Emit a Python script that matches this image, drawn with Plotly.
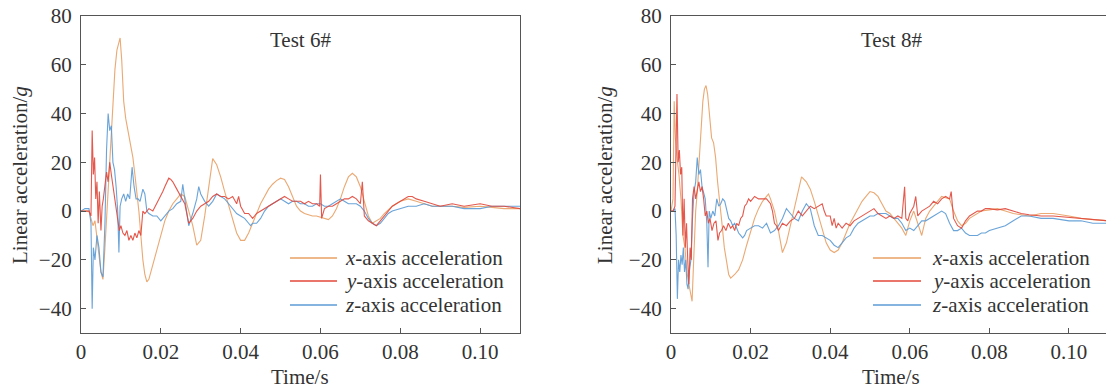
import plotly.graph_objects as go

# ---------------- Test 6# ----------------
T6_X_T = [0, 1, 2, 2.5, 3, 3.5, 4, 4.5, 5, 5.5,
          6, 6.5, 7, 7.5, 8, 8.5, 9, 9.5, 9.8, 10.2,
          10.7, 11.2, 11.8, 12.4, 13, 13.5, 14, 14.5, 15, 15.5,
          16, 16.5, 17, 18, 19, 20, 21, 22, 23, 24,
          25, 26, 27, 28, 29, 30, 31, 32, 33, 34,
          35, 36, 37, 38, 39, 40, 41, 42, 43, 44,
          45, 46, 47, 48, 49, 50, 51, 52, 53, 54,
          55, 56, 57, 58, 59, 60, 61, 62, 63, 64,
          65, 66, 67, 68, 69, 70, 71, 72, 73, 74,
          75, 76, 78, 80, 82, 84, 86, 88, 90, 93,
          96, 100, 103, 106, 110]
T6_X_V = [0, 0, 0, -3, -6, -4, -10, -18, -25, -28,
          -15, 0, 15, 30, 45, 58, 66, 70, 71, 62,
          45, 38, 33, 28, 22, 15, 8, 0, -10, -20,
          -26, -29, -28, -22, -15, -9, -4, 0, 3, 5,
          7, 6, 0, -6, -14, -12, -2, 9, 21.5, 19,
          14, 8, 2, -4, -9, -12, -12, -9, -5, -1,
          3, 6, 9, 11, 12.5, 13.5, 13, 10, 6, 2,
          0, -1, -1.5, -2, -2, -2.5, -3, -3.5, -2, 1,
          5, 10, 14, 15.5, 14, 10, 4, -2, -5, -4,
          -3, -1, 2, 4, 5, 4, 3, 2, 2, 2,
          1.5, 2, 1.5, 1, 1]

T6_Y_T = [0, 1, 2, 2.5, 2.8, 3.1, 3.4, 3.7, 4, 4.3,
          4.6, 5, 5.3, 5.6, 6, 6.4, 6.8, 7.2, 7.6, 8,
          8.4, 8.8, 9.2, 9.6, 10, 10.5, 11, 11.5, 12, 12.5,
          13, 13.5, 14, 14.5, 15, 15.5, 16, 17, 18, 19,
          20, 20.5, 21, 21.5, 22, 22.5, 23, 24, 25, 26,
          27, 28, 29, 30, 31, 32, 33, 34, 35, 36,
          37, 38, 39, 39.5, 40, 41, 42, 43, 44, 45,
          46, 47, 48, 49, 50, 51, 52, 53, 54, 55,
          56, 57, 58, 59, 59.8, 60, 60.3, 61, 62, 63,
          64, 65, 66, 67, 68, 69, 70, 70.5, 71, 72,
          73, 74, 75, 76, 77, 78, 79, 80, 81, 82,
          83, 84, 86, 88, 90, 93, 96, 100, 103, 106,
          110]
T6_Y_V = [0, 0, 0, -2, 33, 15, 22, 5, 12, -5,
          8, -8, 2, 5, 12, 16, 12, 20, 15, 10,
          5, 0, -5, -8, -6, -9, -10, -8, -12, -10,
          -12, -9, -11, -8, -10, 0, -1, 1, 0, 3,
          6, 8, 10, 12, 13.5, 13, 12, 9, 6, 3,
          -5, -3, 0, 2, 3, 4, 6, 7, 6, 6,
          5, 6, 3, 6, 2, -1, -1, -3, -1, 0,
          1, 2, 3, 4, 5, 6, 5, 4, 4, 4,
          3, 4, 3, 3, 2, 15, -3, 1, 2, 2,
          3, 4, 5, 5, 6, 5, 3, 12, -2, -4,
          -5, -6, -4, -2, 0, 2, 3, 4, 5, 6,
          6, 5, 4, 3, 2, 3, 2, 3, 2, 2,
          1]

T6_Z_T = [0, 1, 2, 2.5, 2.8, 3.1, 3.5, 4, 4.5, 5,
          5.5, 6, 6.4, 6.8, 7.2, 7.6, 8, 8.4, 8.8, 9.2,
          9.5, 9.8, 10.2, 10.7, 11.2, 11.7, 12.2, 12.8, 13.3, 13.8,
          14.3, 14.8, 15.5, 16, 16.5, 17, 18, 19, 20, 21,
          22, 23, 24, 25, 25.5, 26, 26.5, 27, 28, 29,
          29.5, 30, 31, 32, 33, 34, 35, 36, 37, 38,
          39, 40, 41, 42, 42.5, 43, 44, 45, 46, 47,
          48, 49, 50, 51, 52, 53, 54, 55, 56, 57,
          58, 59, 60, 61, 62, 63, 64, 65, 66, 67,
          68, 69, 70, 71, 72, 73, 74, 75, 76, 77,
          78, 80, 82, 84, 86, 88, 90, 93, 96, 100,
          103, 106, 110]
T6_Z_V = [0, 1, 1, -5, -40, -15, -20, -10, -15, -25,
          -27, -5, 25, 40, 33, 35, 20, 17, 10, 0,
          -17, 2, 5, 7, 4, 7, 5, 18, 10, 5,
          5, 4, 9, 7, 0, -1, -2, -2, -4, -2,
          0, 1, 3, 4, 11, 5, 0, -6, -1, 5,
          10, 7, 4, 2, 4, 7, 6, 5, 3, 1,
          -1, -2, -3, -5, -6, -5, -5, -3, 0, 2,
          3, 4, 5, 4, 3, 4, 4, 3, 3, 2,
          2, 3, 3, 2, 2, 3, 4, 5, 4, 3,
          3, 3, 2, 0, -3, -5, -6, -5, -3, -1,
          0, 1, 2, 2, 3, 2, 2, 2, 1, 1,
          2, 2, 2]

# ---------------- Test 8# ----------------
T8_X_T = [0, 0.5, 0.8, 1.1, 1.5, 2, 2.5, 3, 3.5, 4,
          4.5, 5, 5.3, 5.7, 6.2, 6.6, 7, 7.5, 8, 8.4,
          8.8, 9.2, 9.7, 10.2, 10.7, 11.2, 11.7, 12.2, 12.8, 13.4,
          14, 14.5, 15, 16, 17, 18, 19, 20, 21, 22,
          23, 24, 24.5, 25, 26, 27, 28, 29, 30, 31,
          32, 32.8, 34, 35, 36, 37, 38, 39, 40, 41,
          42, 43, 44, 45, 46, 47, 48, 49, 50, 51,
          52, 53, 54, 55, 56, 57, 58, 59, 60, 61,
          62, 63, 64, 65, 66, 67, 68, 69, 70, 71,
          72, 73, 74, 75, 76, 77, 78, 80, 82, 84,
          86, 88, 90, 93, 96, 100, 103, 106, 110]
T8_X_V = [0, 5, 45, 30, 22, 15, 5, -10, -15, -25,
          -30, -35, -37, -20, 0, 8, 20, 35, 45, 50,
          51.5, 48, 38, 30, 28, 22, 12, 3, -5, -15,
          -22, -26, -27.5, -26, -24, -20, -14, -8, -3, 1,
          4, 6, 7, 5, 0, -8, -17, -13, -6, 2,
          9, 14, 12, 9, 4, -2, -8, -13, -16, -17,
          -16, -13, -9, -5, -2, 1, 4, 6, 8, 7.5,
          6, 3, 0, -1, -3, -5, -7, -10, -4, 0,
          -5, -10, -3, 0, 2, 4, 6, 5.5, 5, 0,
          -4, -6, -5, -3, -2, -1, 0, 0.5, 1, 0,
          -1, -1.5, -2, -1, -1, -2, -3, -3.5, -4]

T8_Y_T = [0, 0.5, 1, 1.5, 1.8, 2.1, 2.4, 2.7, 3, 3.3,
          3.6, 3.9, 4.2, 4.5, 4.8, 5.1, 5.4, 5.8, 6.2, 6.6,
          7, 7.4, 7.8, 8.2, 8.6, 9, 9.4, 9.8, 10.3, 10.8,
          11.3, 11.8, 12.2, 12.7, 13.2, 13.8, 14.4, 15, 15.5, 16,
          16.5, 17, 17.5, 18, 18.5, 19, 19.5, 20, 21, 22,
          23, 24, 25, 25.5, 26, 26.5, 27, 28, 29, 30,
          31, 32, 33, 34, 35, 36, 37, 38, 38.5, 39,
          40, 40.5, 41, 41.5, 42, 43, 44, 45, 46, 47,
          48, 49, 50, 51, 52, 53, 54, 55, 56, 57,
          58, 58.7, 59, 59.5, 60, 61, 61.5, 62, 63, 64,
          65, 66, 67, 68, 69, 70, 70.4, 71, 72, 73,
          74, 75, 76, 77, 78, 79, 80, 82, 84, 86,
          88, 90, 93, 96, 100, 103, 106, 110]
T8_Y_V = [0, 0, 2, 48, 20, 25, 15, 18, -10, 5,
          -15, -5, -20, -30, -15, -20, 5, 10, 5, 8,
          12, 8, 10, 5, -2, 0, -5, -3, -8, -5,
          -4, -12, -9, -8, -6, -8, -5, -7, -6, -8,
          -5, -6, -3, -2, 2, 3, 5, 4, 6, 5,
          5, 5, 3, 0, -5, -6, -8, -5, -6, -4,
          -3, 0, -2, 0, 2, 1, 2, 3, 0, -2,
          -2, -6, -3, -7, -5, -7, -5, -6, -4, -3,
          -2, -1, 0, 1, -1, -2, -3, -2, -3, -2,
          -3, 10, -3, -4, -1, 2, 6, -2, 0, 1,
          2, 4, 3, 5, 6, 5, 8, -3, -6, -7,
          -4, -2, -1, 0, 0, 1, 1, 0.5, 1, 0,
          -1, -1.5, -2, -2, -2.5, -3, -3.5, -4]

T8_Z_T = [0, 0.5, 1, 1.3, 1.6, 1.9, 2.2, 2.5, 2.8, 3.1,
          3.4, 3.7, 4, 4.3, 4.6, 5, 5.4, 5.8, 6.2, 6.6,
          7, 7.4, 7.8, 8.2, 8.6, 9, 9.3, 9.6, 10, 10.5,
          11, 11.5, 12, 12.5, 13, 13.5, 14, 14.5, 15, 15.5,
          16, 16.5, 17, 17.5, 18, 18.5, 19, 20, 21, 22,
          23, 24, 25, 26, 27, 28, 29, 30, 31, 32,
          33, 34, 35, 36, 37, 38, 39, 40, 41, 42,
          43, 44, 45, 46, 47, 48, 49, 50, 51, 52,
          53, 54, 55, 56, 57, 58, 59, 60, 61, 62,
          63, 64, 65, 66, 67, 68, 69, 70, 71, 72,
          73, 74, 75, 76, 77, 78, 79, 80, 82, 84,
          86, 88, 90, 93, 96, 100, 103, 106, 110]
T8_Z_V = [0, 0, 1, -10, -36, -20, -25, -18, -22, -15,
          -25, -20, -30, -32, -25, -20, -3, 8, 12, 22,
          15, 17, 10, 8, 5, -5, -23, 0, -3, 0,
          -2, 5, 2, 3, 5, 4, 0, -3, -4, -6,
          -5, -7, -9, -10, -11, -10, -8, -7, -6, -6,
          -7, -5, -9, -8, -6, -3, 1, -1, -3, -4,
          0, 3, 1, -6, -10, -10, -11, -12, -14, -15,
          -13, -11, -10, -7, -5, -4, -3, -2, -2, -1,
          -1, -1, -2, -3, -3, -5, -8, -7, -8, -6,
          -4, -4, -3, -2, -1, 0, -1, -5, -8, -8,
          -7, -9, -10, -10, -10, -9, -9, -8, -7, -6,
          -4, -2, -2, -3, -3, -4, -4, -5, -5]

PANELS = ["Test 6#", "Test 8#"]
SERIES_NAMES = ["<i>x</i>-axis acceleration", "<i>y</i>-axis acceleration",
                "<i>z</i>-axis acceleration"]
X_TICKS = [0, 0.02, 0.04, 0.06, 0.08, 0.10]
X_TICK_TEXT = ["0", "0.02", "0.04", "0.06", "0.08", "0.10"]
Y_TICKS = [-40, -20, 0, 20, 40, 60, 80]
X_TITLE = "Time/s"
Y_TITLE = "Linear acceleration/<i>g</i>"

COLORS = ["#E9A064", "#E2473A", "#5B9BD5"]
FONT = "Liberation Serif, Times New Roman, serif"
TXT = "#333333"
FS = 21

data = [
    [(T6_X_T, T6_X_V), (T6_Y_T, T6_Y_V), (T6_Z_T, T6_Z_V)],
    [(T8_X_T, T8_X_V), (T8_Y_T, T8_Y_V), (T8_Z_T, T8_Z_V)],
]

fig = go.Figure()
draw_order = [0, 2, 1]
for p, series in enumerate(data):
    xa = "x" if p == 0 else "x2"
    ya = "y" if p == 0 else "y2"
    for k in draw_order:
        t, v = series[k]
        fig.add_trace(go.Scatter(
            x=[ti / 1000 for ti in t], y=v, mode="lines",
            name=SERIES_NAMES[k], xaxis=xa, yaxis=ya, showlegend=False,
            line=dict(color=COLORS[k], width=1.1), opacity=0.9,
        ))

W, H = 1106, 390
ytop, ybot = 16, 333
axis_common = dict(showgrid=False, zeroline=False, showline=True, automargin=False,
                   linecolor="#555555", linewidth=1.3, ticks="inside",
                   ticklen=5, tickcolor="#555555", tickwidth=1.2,
                   tickfont=dict(family=FONT, size=FS, color=TXT))

fig.update_layout(
    template="none",
    width=W, height=H, margin=dict(l=0, r=0, t=0, b=0, pad=0),
    plot_bgcolor="white", paper_bgcolor="white",
    font=dict(family=FONT, size=FS, color=TXT),
    showlegend=False,
    xaxis=dict(domain=[81 / W, 520 / W], range=[0, 0.11], tickvals=X_TICKS,
               ticktext=X_TICK_TEXT, mirror=True, anchor="y", ticklabelstandoff=0,
               **axis_common),
    yaxis=dict(domain=[1 - ybot / H, 1 - ytop / H], range=[-50, 80], tickvals=Y_TICKS,
               mirror=True, anchor="x", ticklabelstandoff=4,
               **axis_common),
    xaxis2=dict(domain=[671 / W, 1.0], range=[0, 0.1093], tickvals=X_TICKS,
                ticktext=X_TICK_TEXT, mirror=True, anchor="y2", ticklabelstandoff=0,
                **axis_common),
    yaxis2=dict(domain=[1 - ybot / H, 1 - ytop / H], range=[-50, 80], tickvals=Y_TICKS,
                mirror=False, anchor="x2", ticklabelstandoff=4,
                **axis_common),
)

# panel labels and axis titles
panel_cx = [300, 891]
ytitle_x = [20, 605]
for p in range(2):
    fig.add_annotation(text=PANELS[p], x=panel_cx[p] / W, y=1 - 40 / H,
                       xref="paper", yref="paper", showarrow=False,
                       xanchor="center", yanchor="middle",
                       font=dict(family=FONT, size=FS, color=TXT))
    fig.add_annotation(text=X_TITLE, x=panel_cx[p] / W, y=1 - 377 / H,
                       xref="paper", yref="paper", showarrow=False,
                       xanchor="center", yanchor="middle",
                       font=dict(family=FONT, size=FS, color=TXT))
    fig.add_annotation(text=Y_TITLE, x=ytitle_x[p] / W, y=1 - 175 / H,
                       xref="paper", yref="paper", showarrow=False, textangle=-90,
                       xanchor="center", yanchor="middle",
                       font=dict(family=FONT, size=FS, color=TXT))

# legends (drawn as line samples + labels)
leg_line = [(290, 337), (873, 921)]
leg_text_x = [343, 930]
leg_rows = [258, 281, 305]
for p in range(2):
    for k in range(3):
        yy = 1 - leg_rows[k] / H
        fig.add_shape(type="line", xref="paper", yref="paper",
                      x0=leg_line[p][0] / W, x1=leg_line[p][1] / W, y0=yy, y1=yy,
                      line=dict(color=COLORS[k], width=1.6))
        fig.add_annotation(text=SERIES_NAMES[k], x=leg_text_x[p] / W, y=yy,
                           xref="paper", yref="paper", showarrow=False,
                           xanchor="left", yanchor="middle",
                           font=dict(family=FONT, size=FS, color=TXT))

fig.write_html("out.html")
